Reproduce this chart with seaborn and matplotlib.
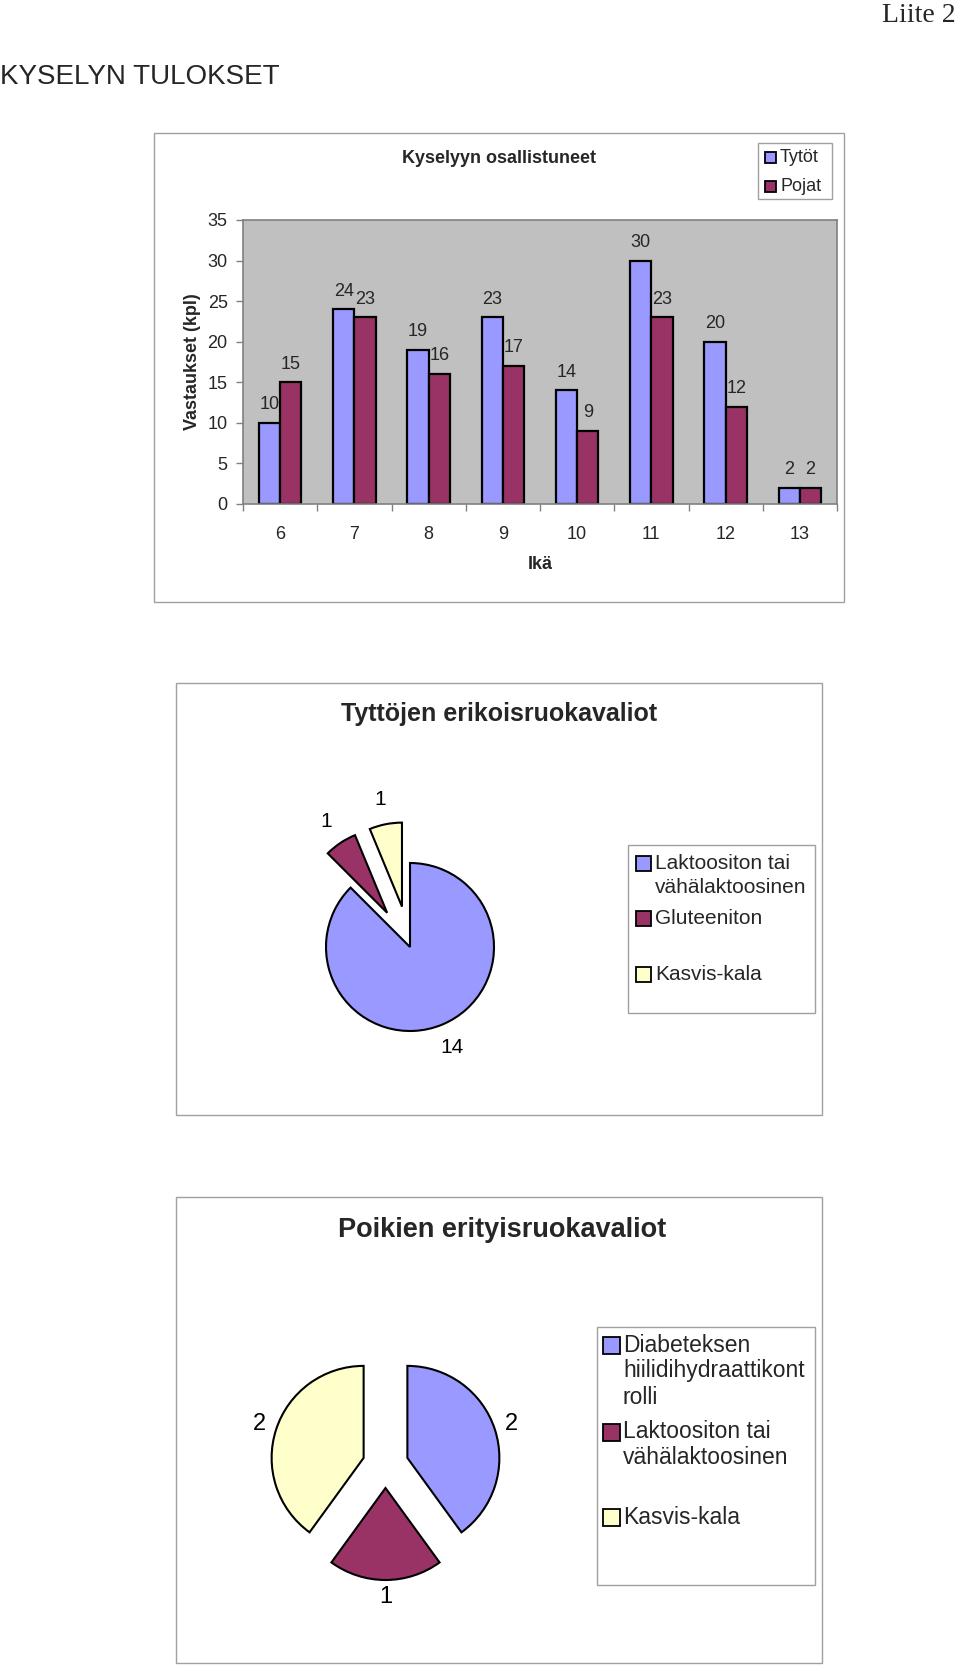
import numpy as np
import pandas as pd
import matplotlib
matplotlib.use("Agg")
import matplotlib.pyplot as plt
from matplotlib.patches import Rectangle
import seaborn as sns

# Survey participants by age
ages = ["6", "7", "8", "9", "10", "11", "12", "13"]
girls = [10, 24, 19, 23, 14, 30, 20, 2]
boys = [15, 23, 16, 17, 9, 23, 12, 2]
series = ["Tytöt", "Pojat"]
yticks = [0, 5, 10, 15, 20, 25, 30, 35]

# Special diets
girls_diet_labels = ["Laktoositon tai\nvähälaktoosinen", "Gluteeniton", "Kasvis-kala"]
girls_diet_values = [14, 1, 1]
boys_diet_labels = ["Diabeteksen\nhiilidihydraattikont\nrolli", "Laktoositon tai\nvähälaktoosinen", "Kasvis-kala"]
boys_diet_values = [2, 1, 2]

BLUE = "#9999FF"
MAROON = "#993366"
YELLOW = "#FFFFCC"
FRAME = "#A0A0A0"
AXGRAY = "#808080"

sns.set_theme(style="white")
plt.rcParams["font.family"] = ["Liberation Sans", "DejaVu Sans"]

W, H = 960, 1666
fig = plt.figure(figsize=(W / 100, H / 100), dpi=100)


def px_rect(l, t, r, b):
    # pixel box (left, top, right, bottom) -> figure fraction rect
    return [l / W, 1 - b / H, (r - l) / W, (b - t) / H]


# overlay in pixel coordinates for frames, headings and legends
ov = fig.add_axes([0, 0, 1, 1])
ov.set_xlim(0, W)
ov.set_ylim(H, 0)
ov.axis("off")

ov.text(956, 15, "Liite 2", ha="right", va="center", fontsize=20,
        family=["Liberation Serif", "DejaVu Serif"])
ov.text(0, 77, "KYSELYN TULOKSET", ha="left", va="center", fontsize=20,
        family=["Liberation Sans Narrow", "Liberation Sans", "DejaVu Sans"])

for box in [(154, 133, 844, 602), (176, 683, 822, 1115), (176, 1197, 822, 1663)]:
    l, t, r, b = box
    ov.add_patch(Rectangle((l, t), r - l, b - t, fill=False, edgecolor=FRAME, lw=1))


def legend_box(box, entries, colors, ys, x_mark, size, x_text, fontsize, pitch):
    l, t, r, b = box
    ov.add_patch(Rectangle((l, t), r - l, b - t, fill=False, edgecolor=FRAME, lw=1))
    for label, color, y0 in zip(entries, colors, ys):
        ov.add_patch(Rectangle((x_mark, y0 - size / 2), size, size,
                               facecolor=color, edgecolor="black", lw=1.3))
        for i, line in enumerate(label.split("\n")):
            ov.text(x_text, y0 + i * pitch, line, ha="left", va="center", fontsize=fontsize)


# ---- bar chart ----
df = pd.DataFrame({
    "Ikä": ages * 2,
    "kpl": girls + boys,
    "sarja": [series[0]] * len(ages) + [series[1]] * len(ages),
})

ax = fig.add_axes(px_rect(243, 220, 837, 504))
sns.barplot(data=df, x="Ikä", y="kpl", hue="sarja", order=ages, hue_order=series,
            palette={"Tytöt": BLUE, "Pojat": MAROON}, width=0.57, saturation=1,
            edgecolor="black", linewidth=1.6, legend=False, ax=ax)
ax.set_facecolor("#C0C0C0")
ax.set_xlim(-0.5, len(ages) - 0.5)
ax.set_ylim(0, 35)
ax.set_yticks(yticks)
for c in ax.containers:
    ax.bar_label(c, padding=7, fontsize=13)
for s in ax.spines.values():
    s.set_visible(True)
    s.set_color(AXGRAY)
    s.set_linewidth(1.2)
ax.tick_params(axis="y", left=True, length=5, width=1, color=AXGRAY, pad=6, labelsize=13)
ax.tick_params(axis="x", which="major", length=0, pad=15.5, labelsize=13)
ax.set_xticks(np.arange(-0.5, len(ages), 1), minor=True)
ax.tick_params(axis="x", which="minor", bottom=True, length=5, width=1, color=AXGRAY)
ax.set_xlabel("Ikä", fontsize=13, fontweight="bold")
ax.xaxis.set_label_coords(0.5, -0.183)
ax.set_ylabel("Vastaukset (kpl)", fontsize=13, fontweight="bold")
ax.yaxis.set_label_coords(-0.071, 0.5)

ov.text(499, 158, "Kyselyyn osallistuneet", ha="center", va="center",
        fontsize=13, fontweight="bold")
legend_box((758, 143, 832, 199), series, [BLUE, MAROON], [157, 186],
           765, 11, 780, 13, 20)

# ---- girls pie ----
ax1 = fig.add_axes(px_rect(410 - 168, 947 - 168, 410 + 168, 947 + 168))
total1 = sum(girls_diet_values)
ax1.pie(girls_diet_values, startangle=90, counterclock=False,
        explode=[0, 0.49, 0.49], colors=[BLUE, MAROON, YELLOW],
        wedgeprops=dict(edgecolor="black", linewidth=1.5),
        autopct=lambda p: f"{p * total1 / 100:.0f}", pctdistance=1.3,
        textprops=dict(fontsize=15, color="black"))
ax1.set_xlim(-2, 2)
ax1.set_ylim(-2, 2)

ov.text(499, 714, "Tyttöjen erikoisruokavaliot", ha="center", va="center",
        fontsize=18, fontweight="bold")
legend_box((628, 845, 815, 1013), girls_diet_labels, [BLUE, MAROON, YELLOW],
           [863, 918, 974], 636, 15, 655, 15, 24)

# ---- boys pie ----
ax2 = fig.add_axes(px_rect(385.5 - 184, 1465 - 184, 385.5 + 184, 1465 + 184))
total2 = sum(boys_diet_values)
ax2.pie(boys_diet_values, startangle=90, counterclock=False,
        explode=[0.25, 0.25, 0.25], colors=[BLUE, MAROON, YELLOW],
        wedgeprops=dict(edgecolor="black", linewidth=1.5),
        autopct=lambda p: f"{p * total2 / 100:.0f}", pctdistance=1.19,
        textprops=dict(fontsize=17, color="black"))
ax2.set_xlim(-2, 2)
ax2.set_ylim(-2, 2)

ov.text(502, 1230, "Poikien erityisruokavaliot", ha="center", va="center",
        fontsize=19.5, fontweight="bold")
legend_box((597, 1327, 815, 1585), boys_diet_labels, [BLUE, MAROON, YELLOW],
           [1345, 1432, 1517], 603, 17, 623, 16.5, 26)

fig.savefig("out.png", dpi=100)
